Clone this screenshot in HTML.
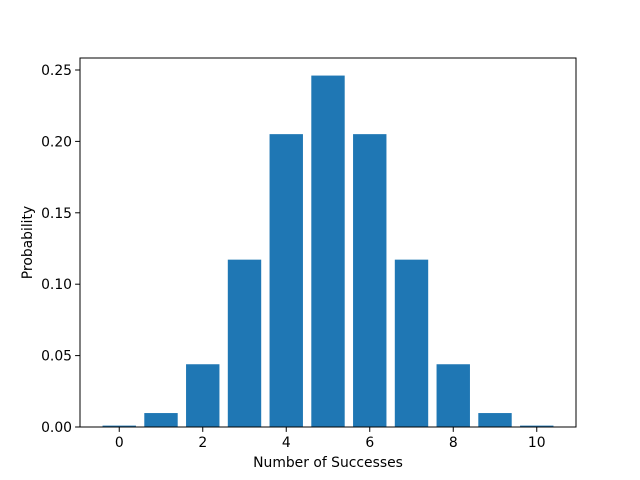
<!DOCTYPE html>
<html><head><meta charset="utf-8"><style>
body{margin:0;background:#fff;}
svg{display:block;font-family:"DejaVu Sans","Liberation Sans",sans-serif;}
</style></head><body>
<svg id="chart" width="640" height="480">
<rect width="640" height="480" fill="#fff"/>
<g id="bars"></g>
<g id="axes"></g>
</svg>
<script>
const categories=[0,1,2,3,4,5,6,7,8,9,10];
const probabilities=[0.000977,0.009766,0.043945,0.117188,0.205078,0.246094,0.205078,0.117188,0.043945,0.009766,0.000977];
const xTicks=[0,2,4,6,8,10];
const yTicks=[0.00,0.05,0.10,0.15,0.20,0.25];
const yTickLabels=["0.00","0.05","0.10","0.15","0.20","0.25"];

const L=80,R=576,T=58,B=427;
const xmin=-0.94,xmax=10.94;
const ymax=Math.max(...probabilities)*1.05;
const sx=v=>L+(v-xmin)/(xmax-xmin)*(R-L);
const sy=v=>B-v/ymax*(B-T);
const FS=13.9;
const NS="http://www.w3.org/2000/svg";
function mk(tag,attrs,parent){const e=document.createElementNS(NS,tag);for(const k in attrs)e.setAttribute(k,attrs[k]);parent.appendChild(e);return e;}
const bars=document.getElementById('bars'),axes=document.getElementById('axes');
categories.forEach((c,i)=>{
  const x0=sx(c-0.4),x1=sx(c+0.4),y=sy(probabilities[i]);
  const r=mk('rect',{x:x0,y:y,width:x1-x0,height:B-y,fill:'#1f77b4'},bars);
  
  
});
const frame=mk('rect',{x:L,y:T,width:R-L,height:B-T,fill:'none',stroke:'#000','stroke-width':1},axes);


xTicks.forEach(t=>{
  const x=sx(t);
  mk('line',{x1:x,x2:x,y1:B,y2:B+4.9,stroke:'#000'},axes);
  const tx=mk('text',{x:x,y:B+20,'text-anchor':'middle','font-size':FS},axes);
  tx.textContent=t;
  
  
});
yTicks.forEach((t,i)=>{
  const y=sy(t);
  mk('line',{x1:L-4.9,x2:L,y1:y,y2:y,stroke:'#000'},axes);
  const tx=mk('text',{x:L-8,y:y+5,'text-anchor':'end','font-size':FS},axes);
  tx.textContent=yTickLabels[i];
  
  
});
const xt=mk('text',{x:(L+R)/2,y:467,'text-anchor':'middle','font-size':FS},axes);
xt.textContent='Number of Successes';


const yt=mk('text',{x:0,y:0,'text-anchor':'middle','font-size':FS,transform:'translate(32,'+((T+B)/2)+') rotate(-90)'},axes);
yt.textContent='Probability';


</script>
</body></html>
